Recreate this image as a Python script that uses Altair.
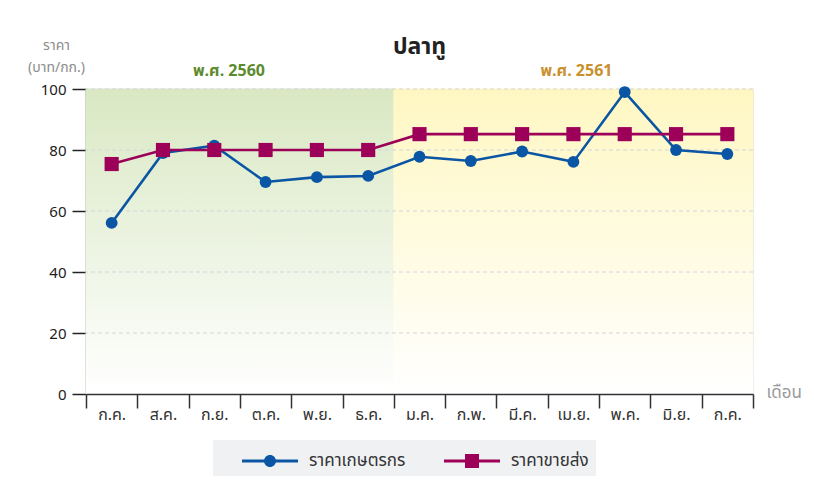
import json
import altair as alt
import pandas as pd

months = ["ก.ค.", "ส.ค.", "ก.ย.", "ต.ค.", "พ.ย.", "ธ.ค.", "ม.ค.", "ก.พ.", "มี.ค.", "เม.ย.", "พ.ค.", "มิ.ย.", "ก.ค."]
years = ["2560", "2560", "2560", "2560", "2560", "2560", "2561", "2561", "2561", "2561", "2561", "2561", "2561"]
farmer = [56.1, 79.0, 81.4, 69.5, 71.1, 71.5, 77.8, 76.4, 79.5, 76.1, 99.0, 80.0, 78.7]
wholesale = [75.4, 80, 80, 80, 80, 80, 85.2, 85.2, 85.2, 85.2, 85.2, 85.2, 85.2]
series_names = ["ราคาเกษตรกร", "ราคาขายส่ง"]
y_ticks = [0, 20, 40, 60, 80, 100]
grid_vals = [20, 40, 60, 80, 100]
year_labels = ["พ.ศ. 2560", "พ.ศ. 2561"]

BLUE = "#0a56a5"
MAG = "#9c0058"
FONT = "Noto Sans Thai, Noto Sans, sans-serif"

df = pd.DataFrame({
    "idx": list(range(len(months))),
    "month": months,
    "year": years,
    series_names[0]: farmer,
    series_names[1]: wholesale,
})

label_expr = json.dumps(months, ensure_ascii=False) + "[datum.value]"

x_enc = alt.X(
    "idx:O",
    scale=alt.Scale(paddingInner=0, paddingOuter=0),
    axis=alt.Axis(
        tickBand="extent", tickSize=14, labelExpr=label_expr, labelFontSize=16,
        labelPadding=-2, labelAngle=0, labelColor="#333", labelFont=FONT,
        domainColor="#333", tickColor="#333", domainWidth=1.5, tickWidth=1.5,
        title="เดือน", titleX=680, titleY=3, titleAlign="left",
        titleBaseline="alphabetic", titleColor="#9a9a9a", titleFontSize=17,
        titleFontWeight="normal", titleFont=FONT,
    ),
)
y_scale = alt.Scale(domain=[0, 100], nice=False)
y_axis = alt.Axis(
    values=y_ticks, tickSize=14, labelPadding=6, labelFontSize=15, labelColor="#222",
    domainColor="#222", tickColor="#222", domainWidth=1.5, tickWidth=1.5, grid=False,
    title=["ราคา", "(บาท/กก.)"], titleAngle=0, titleX=-30, titleY=-40,
    titleAlign="center", titleBaseline="alphabetic", titleColor="#8c8c8c",
    titleFontSize=14, titleFontWeight="normal", titleLineHeight=22, titleFont=FONT,
)

base = alt.Chart(df)

def grad(top):
    return alt.Gradient(
        gradient="linear",
        stops=[alt.GradientStop(color=top, offset=0), alt.GradientStop(color="#ffffff", offset=1)],
        x1=0, x2=0, y1=0, y2=1,
    )

bg_green = base.transform_filter(alt.datum.year == "2560").mark_rect(
    fill=grad("#d9e8c3"), stroke=grad("#d9e8c3"), strokeWidth=1
).encode(
    x=x_enc, y=alt.Y(datum=100, scale=y_scale, axis=y_axis), y2=alt.Y2(datum=0)
)
bg_yellow = base.transform_filter(alt.datum.year == "2561").mark_rect(
    fill=grad("#fff7c2"), stroke=grad("#fff7c2"), strokeWidth=1
).encode(
    x=x_enc, y=alt.Y(datum=100, scale=y_scale), y2=alt.Y2(datum=0)
)

grid = alt.Chart(pd.DataFrame({"g": grid_vals})).mark_rule(
    color="#d4d4dc", strokeDash=[4, 3], strokeWidth=1
).encode(y=alt.Y("g:Q", scale=y_scale))

def series(col, color, shape, size):
    line = base.mark_line(color=color, strokeWidth=2.6).encode(
        x=x_enc, y=alt.Y(f"{col}:Q", scale=y_scale)
    )
    pts = base.mark_point(color=color, filled=True, opacity=1, shape=shape, size=size).encode(
        x=x_enc, y=alt.Y(f"{col}:Q", scale=y_scale)
    )
    return line + pts

farm_layer = series(series_names[0], BLUE, "circle", 140)
whole_layer = series(series_names[1], MAG, "square", 200)

circle_path = "M-2,-0.11H2V0.11H-2Z M0.43,0A0.43,0.43,0,1,1,-0.43,0A0.43,0.43,0,1,1,0.43,0Z"
square_path = "M-2,-0.11H2V0.11H-2Z M-0.5,-0.5H0.5V0.5H-0.5Z"

legend = alt.Legend(
    title=None, orient="none", legendX=127, legendY=351, direction="horizontal",
    fillColor="#f0f1f3", padding=7, symbolSize=784, symbolStrokeWidth=0,
    symbolOpacity=1, labelFontSize=17, labelColor="#333", labelFont=FONT,
    columnPadding=16, labelOffset=25, symbolOffset=36,
)
legend_layer = base.transform_fold(series_names, as_=["series", "value"]).mark_point(
    filled=True, opacity=0
).encode(
    x=x_enc,
    y=alt.Y("value:Q", scale=y_scale),
    color=alt.Color("series:N", scale=alt.Scale(domain=series_names, range=[BLUE, MAG]), legend=legend),
    shape=alt.Shape("series:N", scale=alt.Scale(domain=series_names, range=[circle_path, square_path]), legend=legend),
)

yr_df = pd.DataFrame({"label": year_labels, "idx": [3, 9], "y": [106, 106]})
yr1 = alt.Chart(yr_df.iloc[[0]]).mark_text(
    fontSize=16, fontWeight="bold", color="#5b8b2c", font=FONT, baseline="middle", dx=-11
).encode(x=alt.X("idx:O", bandPosition=0), y=alt.Y("y:Q", scale=y_scale), text="label:N")
yr2 = alt.Chart(yr_df.iloc[[1]]).mark_text(
    fontSize=16, fontWeight="bold", color="#c8902e", font=FONT, baseline="middle", dx=3
).encode(x=alt.X("idx:O", bandPosition=0.5), y=alt.Y("y:Q", scale=y_scale), text="label:N")

chart = alt.layer(
    bg_green, bg_yellow, grid, farm_layer, whole_layer, legend_layer, yr1, yr2
).properties(
    width=667, height=305,
    title=alt.TitleParams("ปลาทู", fontSize=23, fontWeight="bold", color="#222", font=FONT,
                          anchor="middle", frame="group", offset=-21),
    autosize=alt.AutoSizeParams(type="none"),
    padding={"left": 78, "top": 81, "right": 53, "bottom": 88},
).configure_view(stroke=None).configure(font=FONT)

chart.save("out.html", embed_options={"renderer": "svg", "actions": False})
